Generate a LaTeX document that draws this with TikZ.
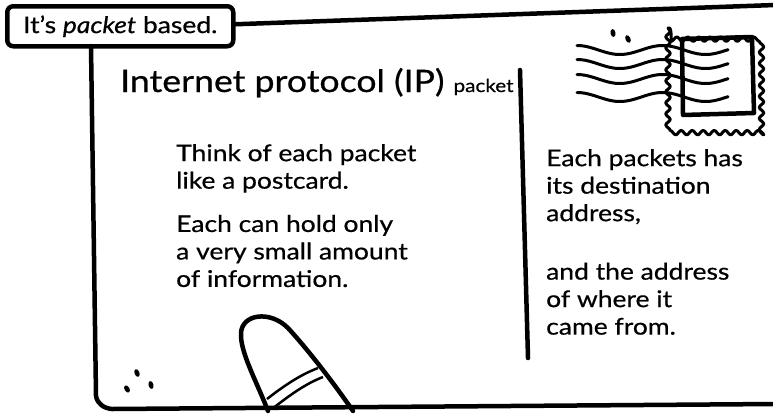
\documentclass[tikz,border=0pt]{standalone}
\usepackage{fontspec}
\setmainfont{Lato}[FakeStretch=1.15, FakeBold=0.6]
\usetikzlibrary{positioning,decorations.pathmorphing,shapes.geometric}

\tikzset{
  ink/.style={line width=4.5pt, line cap=round, line join=round},
  thinink/.style={line width=3pt, line cap=round, line join=round},
  words/.style={align=left, inner sep=0pt, anchor=north west,
    font=\fontsize{23}{27.5}\selectfont},
  dot/.style={fill, ellipse, inner sep=0pt, minimum width=5pt, minimum height=8pt}
}

\begin{document}
\begin{tikzpicture}[x=1pt, y=-1pt]
	\useasboundingbox (0,0) rectangle (773,418);
	% Caption box
	\node[ink, draw, rounded corners=6pt, minimum width=226pt, minimum height=40pt,
	      anchor=north west, font=\fontsize{23}{25}\selectfont] (caption) at (5,4)
	      {It's \textit{packet} based.};
	% Outline of the postcard
	\coordinate (topend) at (775,5);
	\coordinate (botend) at (775,404);
	\draw[ink] (caption.east) ++(0,-2) -- (topend);
	\draw[ink] (91,46) -- (96,396) to[out=-80,in=175] (112,409) -- (botend);
	% Heading
	\node[inner sep=0pt, anchor=base west] (title) at (120,92)
	      {\fontsize{31}{33}\selectfont Internet protocol (IP) {\fontsize{18}{20}\selectfont packet}};
	% Divider between message and address side
	\coordinate (divtop) at (520,70);
	\coordinate (divbot) at (528,358);
	\draw[ink] (divtop) -- (divbot);
	% Left side text
	\node[words] (think) at (176,144) {Think of each packet\\like a postcard.};
	\node[words, below=22pt of think.south west, anchor=north west] (hold)
	      {Each can hold only\\a very small amount\\of information.};
	% Right side text
	\node[words] (dest) at (546,149) {Each packets has\\its destination\\address,};
	\node[words, below=38pt of dest.south west, anchor=north west] (source)
	      {and the address\\of where it\\came from.};
	% Stamp
	\draw[thinink, decorate, decoration={snake, segment length=11pt, amplitude=2.2pt}]
	      (668,28) rectangle (761,126);
	\draw[ink] (682,39) -- (752,37) -- (754,113) -- (683,115) -- cycle;
	% Postmark waves
	\foreach \y in {50,64,79,97} {
	  \draw[thinink] plot[domain=577:728, samples=60, smooth]
	        (\x, {\y + 4.5*sin((\x-577)*4.2 - 90)});
	}
	\node[dot, rotate=10] (pm1) at (613,33) {};
	\node[dot, rotate=25] (pm2) at (628,39) {};
	% Finger pointing at the card
	\draw[ink] (268,411) .. controls (256,380) and (240,352) .. (241,333)
	      .. controls (242,314) and (270,310) .. (288,328)
	      .. controls (310,352) and (335,385) .. (353,411);
	\draw[line width=2.5pt] (267,399) .. controls (285,385) and (300,375) .. (318,368);
	\draw[line width=2.5pt] (272,409) .. controls (290,395) and (305,384) .. (323,377);
	% Little marks in the corner
	\node[dot, rotate=20] (m1) at (137,373) {};
	\node[dot, rotate=30] (m2) at (127,389) {};
	\node[dot, rotate=15] (m3) at (151,385) {};
\end{tikzpicture}
\end{document}
